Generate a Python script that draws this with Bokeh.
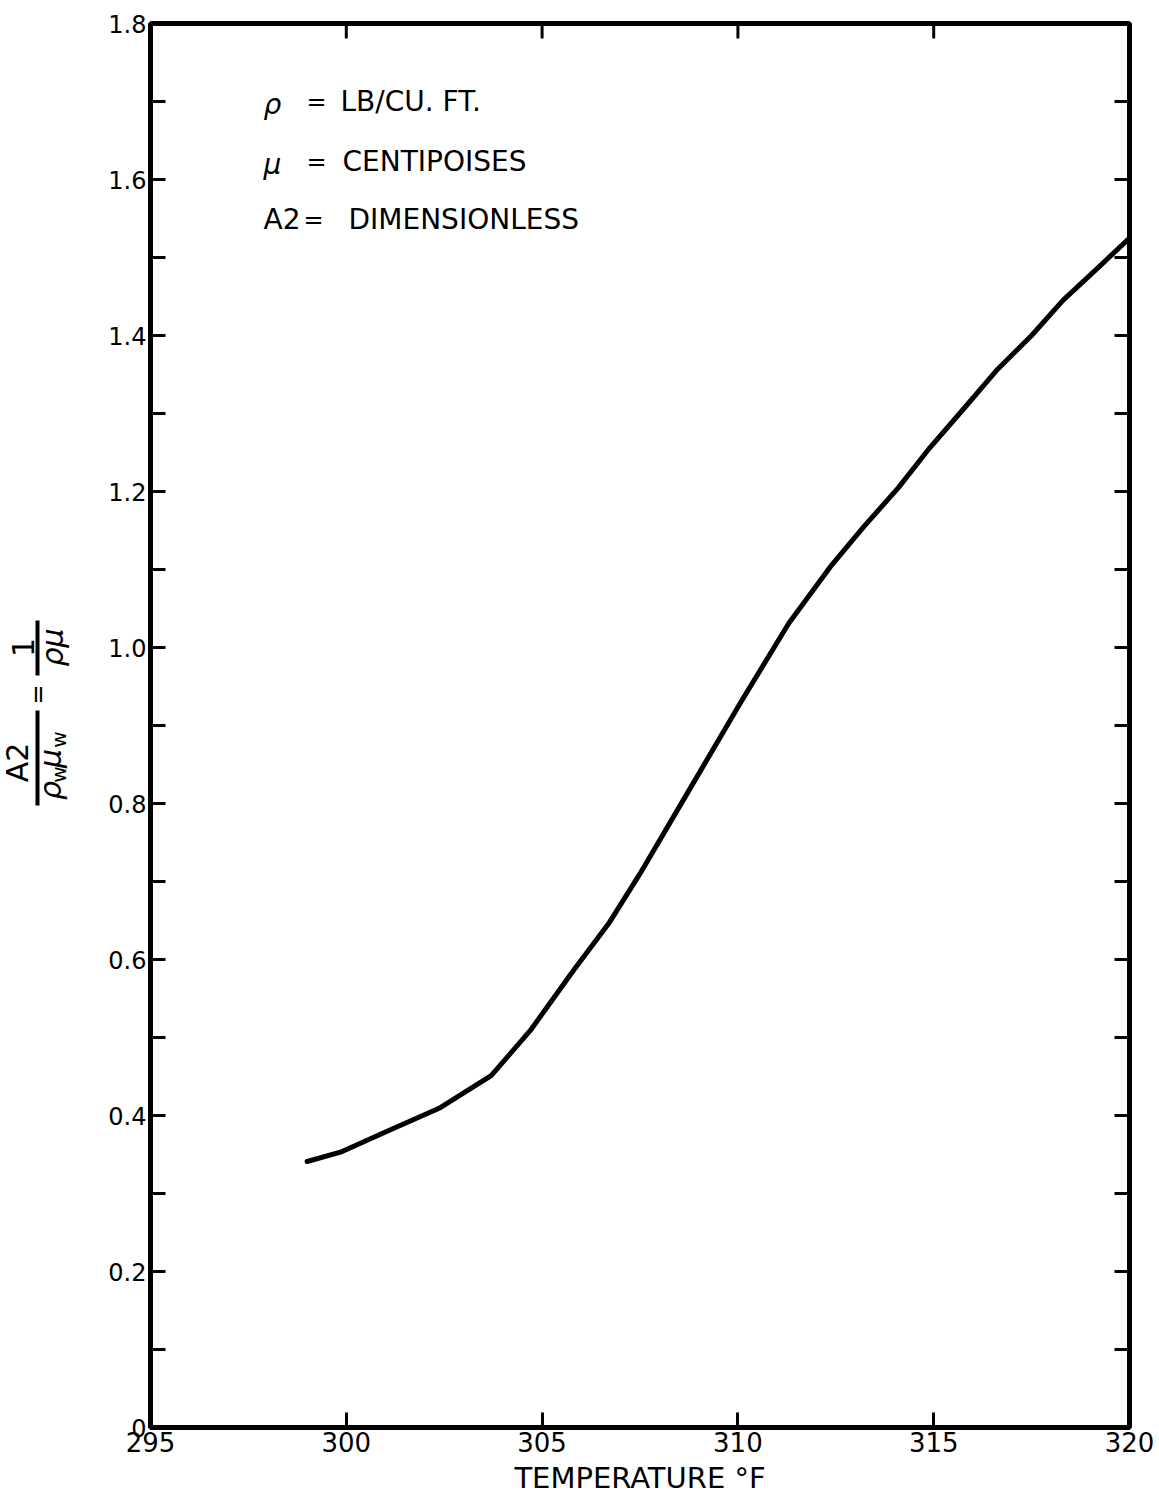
import math
from bokeh.plotting import figure
from bokeh.layouts import row
from bokeh.models import FixedTicker, Range1d, Label
from bokeh.core.properties import value
from bokeh.embed import file_html
from bokeh.resources import INLINE

# ---- data ----
temperature_f = [299.0, 299.85, 301.1, 302.4, 303.7, 304.7, 305.8, 306.7, 307.5,
                 308.8, 310.1, 311.3, 312.4, 313.2, 314.1, 314.9, 315.8, 316.6,
                 317.5, 318.3, 319.2, 320.0]
a2_ratio = [0.341, 0.353, 0.381, 0.410, 0.451, 0.509, 0.586, 0.646, 0.710,
            0.821, 0.932, 1.031, 1.106, 1.154, 1.205, 1.256, 1.308, 1.355,
            1.400, 1.445, 1.487, 1.525]

x_ticks = [295, 300, 305, 310, 315, 320]
x_tick_labels = ["295", "300", "305", "310", "315", "320"]
y_ticks = [0, 0.2, 0.4, 0.6, 0.8, 1.0, 1.2, 1.4, 1.6, 1.8]
y_tick_labels = ["0", "0.2", "0.4", "0.6", "0.8", "1.0", "1.2", "1.4", "1.6", "1.8"]
y_minor_ticks = [0.1, 0.3, 0.5, 0.7, 0.9, 1.1, 1.3, 1.5, 1.7]

x_title = "TEMPERATURE °F"
legend_symbols = ["ρ", "μ", "A2"]
legend_equals = ["=", "=", "="]
legend_units = ["LB/CU. FT.", "CENTIPOISES", "DIMENSIONLESS"]

FONT = "DejaVu Sans"
PAGE_W, PAGE_H = 1159, 1500
LEFT_W = 80                      # width of the strip holding the rotated y title
FL, FT, FR, FB = 150, 23, 1129, 1427  # frame edges in page pixels
X0, X1, Y0, Y1 = 295, 320, 0, 1.8
TICK = 15

# ---------------- main chart ----------------
p = figure(width=PAGE_W - LEFT_W, height=PAGE_H,
           x_range=Range1d(X0, X1), y_range=Range1d(Y0, Y1),
           output_backend="svg", toolbar_location=None,
           min_border_left=FL - LEFT_W, min_border_right=PAGE_W - FR,
           min_border_top=FT, min_border_bottom=PAGE_H - FB)
p.background_fill_color = "white"
p.border_fill_color = "white"
p.grid.visible = False
p.outline_line_color = "black"
p.outline_line_width = 5


def style_axis(ax, ticks, minor, size):
    ax.ticker = FixedTicker(ticks=ticks, minor_ticks=minor)
    ax.axis_line_color = "black"
    ax.axis_line_width = 5
    ax.major_tick_in = TICK
    ax.major_tick_out = 0
    ax.minor_tick_in = TICK
    ax.minor_tick_out = 0
    ax.major_tick_line_width = 3
    ax.minor_tick_line_width = 3
    ax.major_tick_line_color = "black"
    ax.minor_tick_line_color = "black"
    ax.major_label_text_font = FONT
    ax.major_label_text_color = "black"
    ax.major_label_text_font_size = size


xb = p.xaxis[0]
style_axis(xb, x_ticks, [], "26px")
xb.major_label_overrides = {t: l for t, l in zip(x_ticks, x_tick_labels)}
xb.major_label_standoff = 4
xb.axis_label = x_title
xb.axis_label_text_font = FONT
xb.axis_label_text_font_size = "29px"
xb.axis_label_text_font_style = "normal"
xb.axis_label_text_color = "black"
xb.axis_label_standoff = 6

yl = p.yaxis[0]
style_axis(yl, y_ticks, y_minor_ticks, "24px")
yl.major_label_overrides = {t: l for t, l in zip(y_ticks, y_tick_labels)}
yl.major_label_standoff = 4

# inward ticks on the right and top edges (same tick lists, no labels)
frame_w = FR - FL
frame_h = FB - FT
dx = TICK * (X1 - X0) / frame_w
dy = TICK * (Y1 - Y0) / frame_h
right_ticks = sorted(y_ticks + y_minor_ticks)
p.segment(x0=[X1] * len(right_ticks), y0=right_ticks,
          x1=[X1 - dx] * len(right_ticks), y1=right_ticks,
          line_color="black", line_width=3)
p.segment(x0=x_ticks, y0=[Y1] * len(x_ticks),
          x1=x_ticks, y1=[Y1 - dy] * len(x_ticks),
          line_color="black", line_width=3)

# curve
p.line(temperature_f, a2_ratio, line_color="black", line_width=5,
       line_join="round", line_cap="round")


def lab(text, px, py, size, style="normal", align="left"):
    p.add_layout(Label(x=px - FL, y=FB - py, x_units="screen", y_units="screen", text=text,
                       text_font=FONT, text_font_size=size, text_font_style=style,
                       text_color="black", text_align=align, text_baseline="middle"))


# legend block inside the plot
row_y = [101, 161, 219]
sym_x = 263
eq_x = [316, 316, 313]
txt_x = [340, 342, 348]
for sym, eq, txt, yy, ex, tx in zip(legend_symbols, legend_equals, legend_units, row_y, eq_x, txt_x):
    greek = sym != "A2"
    lab(sym, sym_x, yy + (3 if greek else 0), "28px",
        style="italic" if greek else "normal")
    lab(eq, ex, yy, "24px", align="center")
    lab(txt, tx, yy, "28px")

# ---------------- rotated y title strip ----------------
# its frame is aligned with the main frame (top FT, bottom FB); coordinates = page pixels
t = figure(width=LEFT_W, height=PAGE_H, x_range=Range1d(0, LEFT_W), y_range=Range1d(FB, FT),
           output_backend="svg", toolbar_location=None, min_border_left=0, min_border_right=0,
           min_border_top=FT, min_border_bottom=PAGE_H - FB,
           x_axis_location=None, y_axis_location=None)
t.grid.visible = False
t.outline_line_color = None
t.background_fill_color = "white"
t.border_fill_color = "white"
rot = math.pi / 2


def ttext(xs, ys, texts, size, style="normal"):
    t.text(x=xs, y=ys, text=texts, angle=rot, text_font=value(FONT),
           text_font_size=value(size), text_font_style=style, text_color="black",
           text_align="center", text_baseline="middle")


# A2 / (rho_w mu_w) = 1 / (rho mu)
ttext([17], [762], ["A2"], "30px")
ttext([50, 50], [790, 758], ["ρ", "μ"], "30px", style="italic")
ttext([58, 58], [774, 739], ["w", "w"], "20px")
ttext([37], [694], ["="], "24px")
ttext([22], [647], ["1"], "30px")
ttext([52], [647], ["ρμ"], "30px", style="italic")
t.quad(left=[35, 35], right=[39, 39], top=[710, 620], bottom=[805, 675],
       fill_color="black", line_color=None)

layout = row(t, p)
open("out.html", "w").write(file_html(layout, INLINE))
